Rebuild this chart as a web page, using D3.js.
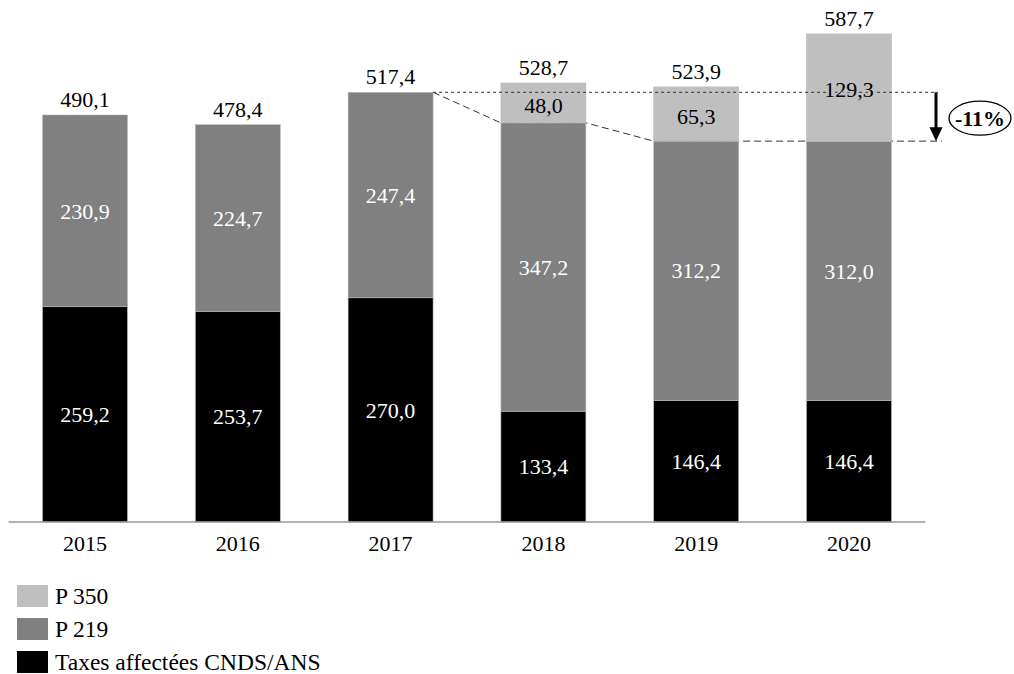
<!DOCTYPE html>
<html><head><meta charset="utf-8">
<script src="https://cdn.jsdelivr.net/npm/d3@7"></script>
<style>
html,body{margin:0;padding:0;background:#fff;}
svg text{font-family:"Palatino Linotype","Book Antiqua",Palatino,"Liberation Serif",serif;}
</style></head>
<body><svg id="c" width="1014" height="674"></svg>
<script>
const years = ["2015","2016","2017","2018","2019","2020"];
const taxes = [259.2, 253.7, 270.0, 133.4, 146.4, 146.4];
const p219 = [230.9, 224.7, 247.4, 347.2, 312.2, 312.0];
const p350 = [0, 0, 0, 48.0, 65.3, 129.3];
const totals = [490.1, 478.4, 517.4, 528.7, 523.9, 587.7];
const seriesNames = ["P 350", "P 219", "Taxes affectées CNDS/ANS"];
const seriesColors = ["#bfbfbf", "#808080", "#000000"];
const seriesTextColors = ["#000000", "#ffffff", "#ffffff"];
const changeLabel = "-11%";

const fmt = v => v.toFixed(1).replace(".", ",");
const svg = d3.select("#c");
const x = d3.scaleBand().domain(years).range([8.6, 925.4]).paddingInner(0.444).paddingOuter(0.222);
const y = d3.scaleLinear().domain([0, 600]).range([522, 23.7]);
const bw = x.bandwidth();
const FS = 22;

const rows = years.map((yr, i) => ({year: yr, taxes: taxes[i], p219: p219[i], p350: p350[i]}));
const stack = d3.stack().keys(["taxes", "p219", "p350"])(rows);
const keyIdx = {taxes: 2, p219: 1, p350: 0};

// lower dashed path (behind bars)
const i17 = 2, i18 = 3, i19 = 4;
const top219 = i => taxes[i] + p219[i];
const lowerPts = [
  [x(years[i17]) + bw, y(totals[i17])],
  [x(years[i18]), y(top219(i18))],
  [x(years[i18]) + bw, y(top219(i18))],
  [x(years[i19]), y(top219(i19))],
  [x(years[i19]) + bw, y(top219(i19))],
  [942, y(top219(i19))]
];
svg.append("path").attr("d", d3.line()(lowerPts)).attr("fill", "none")
  .attr("stroke", "#333").attr("stroke-width", 1).attr("stroke-dasharray", "7,4");

// bars
stack.forEach(layer => {
  const k = keyIdx[layer.key];
  svg.append("g").selectAll("rect").data(layer.filter(d => d[1] - d[0] > 0)).join("rect")
    .attr("x", d => x(d.data.year)).attr("width", bw)
    .attr("y", d => y(d[1])).attr("height", d => y(d[0]) - y(d[1]))
    .attr("fill", seriesColors[k]).attr("stroke", "#b8b8b8").attr("stroke-width", 0.6);
});

// upper dashed line (over bars)
svg.append("line").attr("x1", x(years[i17]) + bw).attr("x2", 938)
  .attr("y1", y(totals[i17])).attr("y2", y(totals[i17]))
  .attr("stroke", "#333").attr("stroke-width", 1).attr("stroke-dasharray", "3,3");

// segment labels
stack.forEach(layer => {
  const k = keyIdx[layer.key];
  svg.append("g").selectAll("text").data(layer.filter(d => d[1] - d[0] > 0)).join("text")
    .attr("x", d => x(d.data.year) + bw / 2)
    .attr("y", d => (y(d[0]) + y(d[1])) / 2 + (k === 0 ? 2 : 0))
    .attr("dy", "0.35em").attr("text-anchor", "middle")
    .attr("font-size", FS).attr("fill", seriesTextColors[k])
    .attr("stroke", k === 0 ? seriesColors[0] : "none").attr("stroke-width", 3)
    .attr("paint-order", "stroke")
    .text(d => fmt(d[1] - d[0]));
});

// totals
svg.append("g").selectAll("text").data(years).join("text")
  .attr("x", d => x(d) + bw / 2).attr("y", (d, i) => y(totals[i]) - 8)
  .attr("text-anchor", "middle").attr("font-size", FS).attr("fill", "#000")
  .text((d, i) => fmt(totals[i]));

// x axis
const ax = svg.append("g").attr("transform", "translate(0,522)")
  .call(d3.axisBottom(x).tickSize(0).tickPadding(13));
ax.select(".domain").attr("stroke", "#9a9a9a").attr("stroke-width", 1.5).attr("d", "M8.6,0H925.4");
ax.selectAll("text").attr("font-size", FS).attr("fill", "#000")
  .style("font-family", '"Palatino Linotype","Book Antiqua",Palatino,"Liberation Serif",serif');

// arrow
const ax0 = 936, ay0 = y(totals[i17]), ay1 = y(top219(i19));
svg.append("line").attr("x1", ax0).attr("x2", ax0).attr("y1", ay0).attr("y2", ay1 - 12)
  .attr("stroke", "#000").attr("stroke-width", 3);
svg.append("path").attr("d", `M${ax0-6.5},${ay1-14}L${ax0+6.5},${ay1-14}L${ax0},${ay1}Z`).attr("fill", "#000");

// ellipse label
const ex = 980, ey = (ay0 + ay1) / 2 + 1.5;
svg.append("ellipse").attr("cx", ex).attr("cy", ey).attr("rx", 31).attr("ry", 17)
  .attr("fill", "#fff").attr("stroke", "#000").attr("stroke-width", 1.3);
svg.append("text").attr("x", ex).attr("y", ey).attr("dy", "0.35em").attr("text-anchor", "middle")
  .attr("font-size", 22).attr("font-weight", "bold").text(changeLabel);

// legend
const lg = svg.append("g").selectAll("g").data(seriesNames).join("g")
  .attr("transform", (d, i) => `translate(17,${585 + i * 33})`);
lg.append("rect").attr("width", 31).attr("height", 22).attr("fill", (d, i) => seriesColors[i]);
lg.append("text").attr("x", 38).attr("y", 11).attr("dy", "0.35em").attr("font-size", 23.5).text(d => d);
</script></body></html>
